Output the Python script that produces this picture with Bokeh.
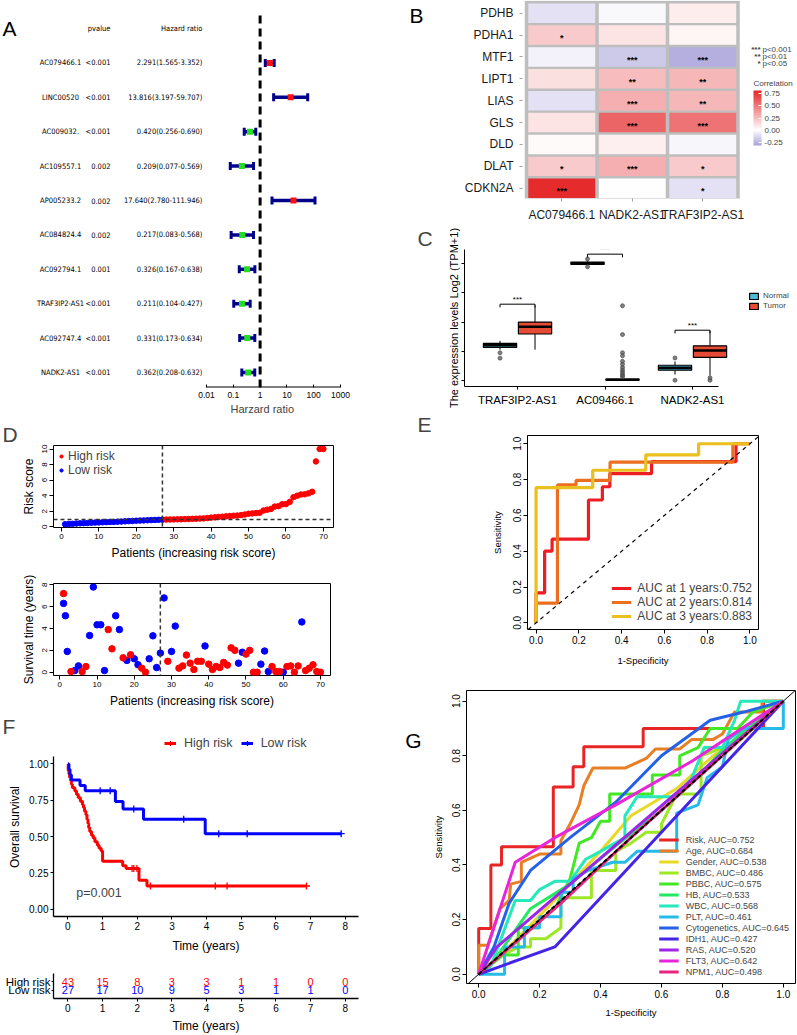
import colorsys
import numpy as np
from bokeh.plotting import figure
from bokeh.models import (Range1d, FactorRange, FixedTicker, Span, Label, Legend, LegendItem,
                          ColorBar, LinearColorMapper, ColumnDataSource, Slope, LinearScale,
                          PrintfTickFormatter, CustomJSTickFormatter, Title, LinearAxis)
from bokeh.layouts import row, column
from bokeh.transform import dodge
from bokeh.core.properties import value
from bokeh.embed import file_html
from bokeh.resources import INLINE

FONT = "Liberation Sans"
NARROW = "Liberation Sans Narrow, DejaVu Sans Condensed, Liberation Sans"

# ---------------- DATA ----------------
# A: univariate Cox forest
forest_genes = ["AC079466.1", "LINC00520", "AC009032.", "AC109557.1", "AP005233.2",
                "AC084824.4", "AC092794.1", "TRAF3IP2-AS1", "AC092747.4", "NADK2-AS1"]
forest_p = ["<0.001", "<0.001", "<0.001", "0.002", "0.002", "0.002", "0.001", "<0.001", "<0.001", "<0.001"]
forest_hr = [2.291, 13.816, 0.420, 0.209, 17.640, 0.217, 0.326, 0.211, 0.331, 0.362]
forest_lo = [1.565, 3.197, 0.256, 0.077, 2.780, 0.083, 0.167, 0.104, 0.173, 0.208]
forest_hi = [3.352, 59.707, 0.690, 0.569, 111.946, 0.568, 0.638, 0.427, 0.634, 0.632]
forest_ticks = [0.01, 0.1, 1, 10, 100, 1000]

# B: correlation heatmap
hm_genes = ["PDHB", "PDHA1", "MTF1", "LIPT1", "LIAS", "GLS", "DLD", "DLAT", "CDKN2A"]
hm_lnc = ["AC079466.1", "NADK2-AS1", "TRAF3IP2-AS1"]
corr_ac079466 = [-0.10, 0.20, -0.04, 0.12, -0.10, 0.10, 0.02, 0.20, 0.80]
corr_nadk2 = [-0.02, 0.10, -0.18, 0.25, 0.30, 0.58, 0.06, 0.30, 0.00]
corr_traf3ip2 = [0.07, 0.04, -0.27, 0.27, 0.27, 0.53, -0.03, 0.20, -0.10]
star_ac079466 = ["", "*", "", "", "", "", "", "*", "***"]
star_nadk2 = ["", "", "***", "**", "***", "***", "", "***", ""]
star_traf3ip2 = ["", "", "***", "**", "**", "***", "", "*", "*"]
corr_ticks = [-0.25, 0.0, 0.25, 0.50, 0.75]
star_legend = ["***", "**", "*"]
star_legend_p = ["p<0.001", "p<0.01", "p<0.05"]

# C: expression boxplots
box_genes = ["TRAF3IP2-AS1", "AC09466.1", "NADK2-AS1"]
normal_q1 = [2.26, 7.96, 0.69]
normal_med = [2.41, 8.04, 0.86]
normal_q3 = [2.54, 8.13, 1.03]
normal_lo = [2.10, 7.90, 0.39]
normal_hi = [2.71, 8.22, 1.29]
tumor_q1 = [3.18, 0.00, 1.57]
tumor_med = [3.68, 0.03, 2.04]
tumor_q3 = [4.00, 0.08, 2.37]
tumor_lo = [2.10, 0.00, 0.32]
tumor_hi = [5.15, 0.20, 3.40]
normal_out_gene = ["TRAF3IP2-AS1", "TRAF3IP2-AS1", "AC09466.1", "AC09466.1", "NADK2-AS1", "NADK2-AS1"]
normal_out_val = [1.89, 1.52, 8.34, 7.80, 1.53, 0.00]
tumor_out_gene = ["AC09466.1"] * 12 + ["NADK2-AS1", "NADK2-AS1"]
tumor_out_val = [5.12, 3.14, 1.89, 1.68, 1.30, 1.10, 0.88, 0.71, 0.56, 0.43, 0.32, 0.24, 0.17, 0.00]
bracket_y = [5.23, 8.67, 3.44]
box_yticks = [0, 2, 4, 6, 8]

# D: risk score & survival status
risk_score = [0.33, 0.36, 0.38, 0.42, 0.45, 0.47, 0.49, 0.52, 0.54, 0.56, 0.58, 0.60, 0.62, 0.63, 0.65,
              0.67, 0.70, 0.73, 0.75, 0.78, 0.80, 0.82, 0.84, 0.86, 0.88, 0.90, 0.92,
              0.93, 0.94, 0.95, 0.96, 0.97, 0.99, 1.00, 1.02, 1.04, 1.06, 1.08, 1.12, 1.18, 1.22,
              1.27, 1.30, 1.34, 1.38, 1.42, 1.45, 1.50, 1.58, 1.68, 1.72, 1.76, 1.80, 2.10, 2.20,
              2.30, 2.60, 2.65, 2.90, 2.92, 3.20, 3.80, 4.00, 4.15, 4.18, 4.30, 4.50, 8.40, 10.0, 10.0]
n_low_risk = 27
risk_cutoff = 0.93
surv_x = [1, 1, 1.5] + list(range(2, 71))
surv_time = [7.2, 6.3, 5.17, 1.9, 0.06, 0.15, 0.58, 0.06, 0.52, 3.36,
             7.8, 4.34, 4.34, 0.15, 3.9, 2.14, 5.17, 3.9, 1.32, 1.08,
             1.6, 1.23, 0.68, 0.37, 0.0, 1.23, 3.33, 0.43, 1.75, 6.8,
             1.0, 1.9, 4.22, 0.37, 0.58, 1.57, 0.83, 0.25, 1.0, 1.0,
             2.4, 0.74, 0.25, 0.52, 0.43, 0.9, 0.65, 2.23, 2.0, 0.83,
             1.83, 1.66, 2.0, 0.0, 0.0, 0.74, 1.94, 0.06, 0.52, 0.06,
             0.06, 0.0, 0.52, 0.58, 0.0, 0.58, 4.6, 0.15, 0.37, 0.68,
             0.06, 0.0]
surv_status = [1, 0, 0, 0, 1, 0, 0, 1, 1, 0, 0, 0, 0, 0, 1, 1, 0, 0, 1, 0,
               1, 0, 0, 1, 1, 0, 0, 0, 0, 0, 1, 0, 0, 1, 1, 1, 1, 1, 1, 1,
               0, 1, 1, 1, 1, 1, 1, 1, 1, 0, 0, 1, 1, 1, 1, 0, 0, 0, 1, 1,
               1, 0, 1, 1, 1, 1, 0, 1, 1, 1, 1, 1]

# E: time-dependent ROC
e1_fpr = [0, 0, 0.04, 0.04, 0.075, 0.075, 0.245, 0.245, 0.31, 0.31, 0.345, 0.345, 0.54, 0.54, 0.935, 0.935, 1]
e1_tpr = [0, 0.167, 0.167, 0.4, 0.4, 0.467, 0.467, 0.686, 0.686, 0.76, 0.76, 0.833, 0.833, 0.9, 0.9, 1, 1]
e2_fpr = [0, 0, 0.1, 0.1, 0.187, 0.187, 0.346, 0.346, 0.92, 0.92, 1]
e2_tpr = [0, 0.11, 0.11, 0.77, 0.77, 0.795, 0.795, 0.897, 0.897, 1, 1]
e3_fpr = [0, 0, 0.265, 0.265, 0.513, 0.513, 0.76, 0.76, 1]
e3_tpr = [0, 0.755, 0.755, 0.852, 0.852, 0.938, 0.938, 1, 1]
e_labels = ["AUC at 1 years:0.752", "AUC at 2 years:0.814", "AUC at 3 years:0.883"]
roc_ticks = [0, 0.2, 0.4, 0.6, 0.8, 1.0]

# F: Kaplan-Meier
high_t = [0, 0.01, 0.03, 0.05, 0.08, 0.1, 0.13, 0.2, 0.25, 0.3, 0.36, 0.42, 0.45, 0.48, 0.52,
          0.55, 0.58, 0.6, 0.63, 0.68, 0.73, 0.78, 0.85, 0.9, 0.96, 1.0, 1.58, 1.68, 2.05, 2.28]
high_s = [1.0, 0.953, 0.93, 0.907, 0.884, 0.86, 0.837, 0.814, 0.79, 0.767, 0.744, 0.72, 0.70, 0.675, 0.65,
          0.62, 0.59, 0.56, 0.535, 0.51, 0.49, 0.465, 0.44, 0.42, 0.40, 0.33, 0.30, 0.28, 0.20, 0.16]
high_end = 6.88
low_t = [0, 0.03, 0.06, 0.1, 0.35, 0.5, 1.37, 1.59, 2.18, 3.96]
low_s = [1.0, 0.963, 0.926, 0.889, 0.852, 0.815, 0.741, 0.69, 0.62, 0.52]
low_end = 7.88
high_cens = [1.85, 1.9, 1.99, 2.38, 4.25, 4.59, 6.88]
low_cens = [0.93, 1.22, 1.9, 3.34, 4.35, 5.17, 7.88]
risk_table_t = [0, 1, 2, 3, 4, 5, 6, 7, 8]
high_at_risk = [43, 15, 8, 3, 3, 1, 1, 0, 0]
low_at_risk = [27, 17, 10, 9, 5, 3, 1, 1, 0]
km_p = "p=0.001"

# G: multi-variable ROC
g_names = ["Risk", "Age", "Gender", "BMBC", "PBBC", "HB", "WBC", "PLT",
           "Cytogenetics", "IDH1", "RAS", "FLT3", "NPM1"]
g_auc = ["0.752", "0.684", "0.538", "0.486", "0.575", "0.533", "0.568", "0.461",
         "0.645", "0.427", "0.520", "0.642", "0.498"]
age_fpr = [0, 0, 0.03, 0.07, 0.1, 0.105, 0.14, 0.14, 0.2, 0.27, 0.27, 0.3, 0.33, 0.345, 0.375, 0.48, 0.55, 0.58, 0.66, 0.7, 0.77, 0.8, 0.84, 0.93, 0.93, 1]
age_tpr = [0, 0.106, 0.106, 0.24, 0.27, 0.33, 0.34, 0.41, 0.44, 0.44, 0.49, 0.55, 0.62, 0.69, 0.755, 0.755, 0.79, 0.825, 0.825, 0.86, 0.86, 0.88, 0.96, 0.96, 1.0, 1]
gender_fpr = [0, 0.1, 0.3, 0.4, 0.5, 0.65, 0.77, 0.87, 1]
gender_tpr = [0, 0.1, 0.33, 0.45, 0.58, 0.68, 0.8, 0.88, 1]
bmbc_fpr = [0, 0.03, 0.08, 0.13, 0.17, 0.17, 0.22, 0.27, 0.27, 0.37, 0.37, 0.45, 0.45, 0.5, 0.55, 0.6, 0.6, 0.65, 0.73, 0.73, 0.8, 0.87, 1]
bmbc_tpr = [0, 0.035, 0.07, 0.1, 0.1, 0.13, 0.13, 0.17, 0.28, 0.28, 0.38, 0.38, 0.45, 0.48, 0.52, 0.52, 0.55, 0.66, 0.66, 0.8, 0.83, 0.87, 1]
pbbc_fpr = [0, 0.08, 0.13, 0.13, 0.2, 0.2, 0.25, 0.3, 0.33, 0.37, 0.4, 0.43, 0.43, 0.57, 0.57, 0.66, 0.66, 0.72, 0.76, 0.85, 0.9, 1]
pbbc_tpr = [0, 0.07, 0.07, 0.17, 0.17, 0.2, 0.24, 0.35, 0.48, 0.5, 0.56, 0.56, 0.66, 0.66, 0.73, 0.73, 0.8, 0.83, 0.9, 0.9, 0.96, 1]
hb_fpr = [0, 0.05, 0.17, 0.3, 0.45, 0.6, 0.7, 0.8, 0.88, 1]
hb_tpr = [0, 0.05, 0.24, 0.33, 0.47, 0.6, 0.7, 0.82, 0.9, 1]
wbc_fpr = [0, 0.04, 0.1, 0.12, 0.17, 0.2, 0.25, 0.3, 0.35, 0.4, 0.48, 0.48, 0.52, 0.65, 0.7, 0.74, 0.8, 0.84, 0.86, 0.93, 1]
wbc_tpr = [0, 0.03, 0.21, 0.27, 0.27, 0.31, 0.34, 0.34, 0.42, 0.45, 0.5, 0.58, 0.65, 0.65, 0.72, 0.83, 0.83, 0.93, 1.0, 1.0, 1]
plt_fpr = [0, 0.085, 0.085, 0.15, 0.15, 0.2, 0.2, 0.27, 0.27, 0.31, 0.31, 0.36, 0.44, 0.48, 0.52, 0.65, 0.65, 0.72, 0.75, 0.8, 0.82, 0.87, 1.0, 1.0]
plt_tpr = [0, 0, 0.1, 0.1, 0.17, 0.17, 0.21, 0.21, 0.3, 0.3, 0.35, 0.38, 0.41, 0.41, 0.45, 0.45, 0.59, 0.62, 0.72, 0.76, 0.86, 0.9, 0.9, 1.0]
cyto_fpr = [0, 0.05, 0.1, 0.17, 0.3, 0.45, 0.6, 0.76, 0.87, 1]
cyto_tpr = [0, 0.1, 0.26, 0.38, 0.5, 0.63, 0.8, 0.93, 0.96, 1]
idh1_fpr = [0, 0.25, 0.6, 1]
idh1_tpr = [0, 0.1, 0.52, 1]
ras_fpr = [0, 0.06, 1]
ras_tpr = [0, 0.1, 1]
flt3_fpr = [0, 0.07, 0.12, 0.25, 0.45, 0.7, 1]
flt3_tpr = [0, 0.24, 0.41, 0.5, 0.62, 0.78, 1]
npm1_fpr = [0, 0.27, 0.5, 1]
npm1_tpr = [0, 0.26, 0.5, 1]

# ---------------- HELPERS ----------------
def fig(w, h, l, r, t, b, **kw):
    p = figure(width=w, height=h, output_backend="svg", toolbar_location=None, frame_align=False,
               min_border_left=l, min_border_right=r, min_border_top=t, min_border_bottom=b, **kw)
    p.grid.visible = False
    return p


def style_axes(p, tick_font, label_font, tick_len=4):
    for ax in p.axis:
        ax.major_label_text_font = FONT
        ax.major_label_text_font_size = tick_font
        ax.major_label_text_color = "black"
        ax.axis_label_text_font = FONT
        ax.axis_label_text_font_size = label_font
        ax.axis_label_text_font_style = "normal"
        ax.axis_label_text_color = "black"
        ax.major_tick_in = 0
        ax.major_tick_out = tick_len
        ax.minor_tick_line_color = None
        ax.major_tick_line_color = "black"
        ax.axis_line_color = "black"
        ax.major_label_standoff = 2
        ax.axis_label_standoff = 4


def r_style(p):
    p.outline_line_color = "black"
    p.outline_line_alpha = 1.0
    p.outline_line_width = 1
    for ax in p.axis:
        ax.axis_line_color = None
    p.yaxis.major_label_orientation = "vertical"


def title_letter(p, txt, offset):
    p.title.text = txt
    p.title.text_font = FONT
    p.title.text_font_size = "21px"
    p.title.text_font_style = "normal"
    p.title.align = "left"
    p.title.offset = offset
    p.title.standoff = 0


def axis_letter(p, txt, ypos, standoff):
    # panel letter carried by an extra left axis (text lives outside the frame)
    p.extra_y_ranges = {"lab": Range1d(0, 1)}
    ax = LinearAxis(y_range_name="lab", ticker=FixedTicker(ticks=[ypos]),
                    formatter=CustomJSTickFormatter(code="return '%s';" % txt),
                    major_label_text_font=FONT, major_label_text_font_size="21px",
                    major_label_text_color="black", major_label_standoff=standoff,
                    major_tick_line_color=None, minor_tick_line_color=None, axis_line_color=None)
    p.add_layout(ax, "left")


def label_formatter(labels):
    return CustomJSTickFormatter(args=dict(labels=labels),
                                 code="const i = Math.round(tick); return (i >= 0 && i < labels.length) ? labels[i] : '';")

# ---------------- A ----------------
pA = figure(width=400, height=420, x_axis_type="log",
            x_range=Range1d(10 ** -9.687, 1000), y_range=Range1d(0.564, 11.814),
            y_axis_location=None, output_backend="svg", toolbar_location=None, frame_align=False,
            min_border_left=0, min_border_right=60, min_border_top=0, min_border_bottom=33)
pA.extra_x_ranges = {"tab": Range1d(0, 340)}
pA.extra_x_scales = {"tab": LinearScale()}
pA.grid.visible = False
pA.outline_line_color = None
style_axes(pA, "8.5px", "11px")
axA = pA.xaxis[0]
axA.ticker = FixedTicker(ticks=forest_ticks)
axA.formatter = CustomJSTickFormatter(code="return String(tick);")
axA.axis_line_color = None
axA.major_tick_in = 3
axA.major_tick_out = 0
axA.major_label_standoff = 4
pA.add_layout(Title(text="Harzard ratio", align="left", offset=230, text_font=FONT,
                    text_font_size="11px", text_font_style="normal", standoff=0), "below")

rows_y = list(range(len(forest_genes), 0, -1))
hr_txt = ["%.3f(%.3f-%.3f)" % (h, l, u) for h, l, u in zip(forest_hr, forest_lo, forest_hi)]
pt_col = ["#FF1010" if h > 1 else "#22DD22" for h in forest_hr]
srcA = ColumnDataSource(dict(y=rows_y, gene=forest_genes, p=forest_p, hr=forest_hr,
                             lo=forest_lo, hi=forest_hi, txt=hr_txt, col=pt_col))
tkw = dict(x_range_name="tab", text_baseline="middle", text_font=value(NARROW),
           text_font_size="7.5px", text_color="black", source=srcA)
pA.text(x=60, y="y", text="gene", text_align="center", **tkw)
pA.text(x=110, y="y", text="p", text_align="right", **tkw)
pA.text(x=202, y="y", text="txt", text_align="right", **tkw)
pA.text(x=[110, 202], y=[11, 11], text=["pvalue", "Hazard ratio"], x_range_name="tab",
        text_align="right", text_baseline="middle", text_font=value(NARROW), text_font_size="7.5px")
pA.text(x=[2], y=[11], text=["A"], x_range_name="tab", text_align="left", text_baseline="middle",
        text_font=value(FONT), text_font_size="21px")
pA.segment(x0=[forest_ticks[0]], x1=[forest_ticks[-1]], y0=[0.564], y1=[0.564], line_color="black", line_width=2)
pA.segment(x0=[1], x1=[1], y0=[0.564], y1=[11.4], line_color="black", line_width=3, line_dash="8 5")
pA.segment(x0="lo", x1="hi", y0="y", y1="y", source=srcA, line_color="#00008B", line_width=3.5)
pA.scatter(x="lo", y="y", source=srcA, marker="dash", angle=np.pi / 2, size=8, line_color="#00008B", line_width=3)
pA.scatter(x="hi", y="y", source=srcA, marker="dash", angle=np.pi / 2, size=8, line_color="#00008B", line_width=3)
pA.scatter(x="hr", y="y", source=srcA, marker="square", size=6, fill_color="col", line_color=None)

# ---------------- B ----------------
def lerp(c1, c2, t):
    t = max(0.0, min(1.0, t))
    return tuple(int(round(a + (b - a) * t)) for a, b in zip(c1, c2))

low_c, mid_c, high_c = (158, 152, 212), (255, 255, 255), (228, 30, 32)
cmin, cmax = -0.32, 0.82
palette = []
for i in range(256):
    v = cmin + (cmax - cmin) * i / 255
    c = lerp(mid_c, low_c, v / -0.35) if v < 0 else lerp(mid_c, high_c, v / 0.85)
    palette.append("#%02x%02x%02x" % c)
mapper = LinearColorMapper(palette=palette, low=cmin, high=cmax)

n_col, n_row = len(hm_lnc), len(hm_genes)
hx, hy, hv, hs = [], [], [], []
for ci, (vals, sts) in enumerate(zip([corr_ac079466, corr_nadk2, corr_traf3ip2],
                                     [star_ac079466, star_nadk2, star_traf3ip2])):
    for ri, (v, s) in enumerate(zip(vals, sts)):
        hx.append(ci); hy.append(n_row - 1 - ri); hv.append(v); hs.append(s)
srcB = ColumnDataSource(dict(x=hx, y=hy, v=hv, s=hs))

pB = fig(397, 224, 122, 0, 0, 21, x_range=Range1d(-0.557, 3.344), y_range=Range1d(-0.468, 8.578))
pB.outline_line_color = None
pB.rect(x=[(n_col - 1) / 2], y=[(n_row - 1) / 2], width=[n_col + 0.05], height=[n_row + 0.13],
        fill_color="#BEBEBE", line_color=None)
pB.rect(x="x", y="y", width=0.95, height=0.89, source=srcB,
        fill_color={"field": "v", "transform": mapper}, line_color=None)
pB.text(x="x", y="y", text="s", source=srcB, text_align="center", text_baseline="middle",
        y_offset=3, text_font=value(FONT), text_font_size="9px", text_font_style="bold")
style_axes(pB, "12px", "12px", tick_len=3)
pB.xaxis.ticker = FixedTicker(ticks=list(range(n_col)))
pB.xaxis.formatter = label_formatter(hm_lnc)
pB.yaxis.ticker = FixedTicker(ticks=list(range(n_row)))
pB.yaxis.formatter = label_formatter(hm_genes[::-1])
for ax in pB.axis:
    ax.axis_line_color = None
    ax.major_tick_line_color = "#A0A0A0"
    ax.major_label_text_color = "#1A1A1A"
    ax.major_label_standoff = 6
cb = ColorBar(color_mapper=mapper, ticker=FixedTicker(ticks=corr_ticks),
              formatter=PrintfTickFormatter(format="%.2f"), width=8, height=55,
              major_label_text_font=FONT, major_label_text_font_size="8px", label_standoff=3,
              major_tick_line_color="white", major_tick_in=3, major_tick_out=0,
              bar_line_color=None, border_line_color=None, background_fill_color=None,
              margin=0, padding=2, location=(229, 51))
pB.add_layout(cb)
pB.add_layout(Label(x=231, y=111, x_units="screen", y_units="screen", text="Correlation", text_font=FONT,
                    text_font_size="8px", text_align="left"))
for st, tx, yy in zip(star_legend, star_legend_p, [144.5, 137.5, 130.5]):
    pB.add_layout(Label(x=238, y=yy, x_units="screen", y_units="screen", text=st, text_font=FONT,
                        text_font_size="8px", text_align="right", text_font_style="bold"))
    pB.add_layout(Label(x=240, y=yy, x_units="screen", y_units="screen", text=tx, text_font=FONT,
                        text_font_size="8px", text_align="left"))
axis_letter(pB, "B", 0.926, 32)

# ---------------- C ----------------
box_x = list(range(len(box_genes)))
pC = fig(397, 186, 64, 0, 16, 24, x_range=Range1d(-0.606, 3.2), y_range=Range1d(-0.43, 8.99))
pC.outline_line_color = None
style_axes(pC, "11.5px", "11px", tick_len=3)
pC.xaxis.ticker = FixedTicker(ticks=box_x)
pC.xaxis.formatter = label_formatter(box_genes)
pC.xaxis.bounds = (-0.606, 2.3)
pC.yaxis.ticker = FixedTicker(ticks=box_yticks)
pC.yaxis.formatter = CustomJSTickFormatter(code="return '';")
pC.yaxis.major_label_text_color = None
pC.yaxis.axis_label = "The expression levels Log2 (TPM+1)"
pC.yaxis.axis_label_standoff = 2
pC.xaxis.major_label_standoff = 4
title_letter(pC, "C", -47)
gene_pos = {g: i for i, g in enumerate(box_genes)}
nsrc = ColumnDataSource(dict(x=box_x, q1=normal_q1, med=normal_med, q3=normal_q3, lo=normal_lo, hi=normal_hi))
tsrc = ColumnDataSource(dict(x=box_x, q1=tumor_q1, med=tumor_med, q3=tumor_q3, lo=tumor_lo, hi=tumor_hi))
boxes = {}
for src, off, colr, name in [(nsrc, -0.2, "#4DBBD5", "Normal"), (tsrc, 0.2, "#E64B35", "Tumor")]:
    xc = dodge("x", off)
    pC.segment(x0=xc, x1=xc, y0="q3", y1="hi", source=src, line_color="black", line_width=1)
    pC.segment(x0=xc, x1=xc, y0="q1", y1="lo", source=src, line_color="black", line_width=1)
    boxes[name] = pC.vbar(x=xc, width=0.38, bottom="q1", top="q3", source=src,
                          fill_color=colr, line_color="black", line_width=1.2)
    pC.segment(x0=dodge("x", off - 0.19), x1=dodge("x", off + 0.19),
               y0="med", y1="med", source=src, line_color="black", line_width=2.5)
onsrc = ColumnDataSource(dict(x=[gene_pos[g] for g in normal_out_gene], v=normal_out_val))
otsrc = ColumnDataSource(dict(x=[gene_pos[g] for g in tumor_out_gene], v=tumor_out_val))
pC.scatter(x=dodge("x", -0.2), y="v", source=onsrc, size=4, color="#555555", alpha=0.75)
pC.scatter(x=dodge("x", 0.2), y="v", source=otsrc, size=4, color="#555555", alpha=0.75)
bsrc = ColumnDataSource(dict(x=box_x, by=bracket_y, bt=[b - 0.22 for b in bracket_y], s=["***"] * 3))
pC.segment(x0=dodge("x", -0.2), x1=dodge("x", 0.2), y0="by", y1="by", source=bsrc, line_color="black", line_width=1)
for off in (-0.2, 0.2):
    pC.segment(x0=dodge("x", off), x1=dodge("x", off), y0="by", y1="bt", source=bsrc, line_color="black", line_width=1)
pC.text(x="x", y="by", text="s", source=bsrc, text_align="center", text_baseline="bottom",
        text_font=value(FONT), text_font_size="8px")
legC = Legend(items=[LegendItem(label="Normal", renderers=[boxes["Normal"]]),
                     LegendItem(label="Tumor", renderers=[boxes["Tumor"]])],
              location=(284, 76), label_text_font=FONT, label_text_font_size="8px",
              glyph_width=11, glyph_height=8, label_height=9, spacing=1, padding=2, margin=0,
              label_standoff=4, border_line_color=None, background_fill_alpha=0)
pC.add_layout(legC)

# ---------------- D1 ----------------
idx = list(range(1, len(risk_score) + 1))
pD1 = fig(400, 142, 53, 67, 22, 30, x_range=Range1d(-2.1, 72.7), y_range=Range1d(-0.09, 10.45))
style_axes(pD1, "8px", "12px")
r_style(pD1)
title_letter(pD1, "D", -51)
pD1.xaxis.ticker = FixedTicker(ticks=list(range(0, 71, 10)))
pD1.yaxis.ticker = FixedTicker(ticks=list(range(0, 11, 2)))
pD1.xaxis.axis_label = "Patients (increasing risk score)"
pD1.yaxis.axis_label = "Risk score"
pD1.add_layout(Span(location=n_low_risk, dimension="height", line_color="#333333", line_dash="4 3", line_width=1.5))
pD1.add_layout(Span(location=risk_cutoff, dimension="width", line_color="#333333", line_dash="4 3", line_width=1.5))
rl = pD1.scatter(idx[:n_low_risk], risk_score[:n_low_risk], size=5.5, color="#0000FF")
rh = pD1.scatter(idx[n_low_risk:], risk_score[n_low_risk:], size=5.5, color="#FF0000")
legD = Legend(items=[LegendItem(label="High risk", renderers=[rh]), LegendItem(label="Low risk", renderers=[rl])],
              location="top_left", label_text_font=FONT, label_text_font_size="12px",
              glyph_width=8, glyph_height=10, label_height=11, spacing=0, padding=1, margin=4,
              label_standoff=3, border_line_color=None, background_fill_alpha=0)
pD1.add_layout(legD)

# ---------------- D2 ----------------
pD2 = fig(400, 150, 53, 70, 21, 37, x_range=Range1d(-1.7, 72.7), y_range=Range1d(-0.3, 8.12))
style_axes(pD2, "8px", "12px")
r_style(pD2)
pD2.xaxis.ticker = FixedTicker(ticks=list(range(0, 71, 10)))
pD2.yaxis.ticker = FixedTicker(ticks=list(range(0, 9, 2)))
pD2.xaxis.axis_label = "Patients (increasing risk score)"
pD2.yaxis.axis_label = "Survival time (years)"
pD2.add_layout(Span(location=n_low_risk, dimension="height", line_color="#333333", line_dash="4 3", line_width=1.5))
dead_x = [x for x, s in zip(surv_x, surv_status) if s == 1]
dead_t = [t for t, s in zip(surv_time, surv_status) if s == 1]
alive_x = [x for x, s in zip(surv_x, surv_status) if s == 0]
alive_t = [t for t, s in zip(surv_time, surv_status) if s == 0]
pD2.scatter(alive_x, alive_t, size=6.5, color="#0000FF")
pD2.scatter(dead_x, dead_t, size=6.5, color="#FF0000")

# ---------------- E ----------------
pE = fig(397, 270, 127, 39, 25, 51, x_range=Range1d(-0.04, 1.04), y_range=Range1d(-0.037, 1.046))
style_axes(pE, "10px", "9.5px")
r_style(pE)
title_letter(pE, "E", -110)
pE.xaxis.ticker = FixedTicker(ticks=roc_ticks)
pE.yaxis.ticker = FixedTicker(ticks=roc_ticks)
pE.xaxis.formatter = PrintfTickFormatter(format="%.1f")
pE.yaxis.formatter = PrintfTickFormatter(format="%.1f")
pE.xaxis.axis_label = "1-Specificity"
pE.yaxis.axis_label = "Sensitivity"
pE.xaxis.axis_label_standoff = 8
pE.yaxis.axis_label_standoff = 8
pE.add_layout(Slope(gradient=1, y_intercept=0, line_color="black", line_dash="4 4", line_width=1.2))
e_cols = ["#EE1D24", "#EC6F21", "#EBC01E"]
e_items = []
for fx, ty, c, lab in zip([e1_fpr, e2_fpr, e3_fpr], [e1_tpr, e2_tpr, e3_tpr], e_cols, e_labels):
    r = pE.line(fx, ty, line_color=c, line_width=3.2)
    e_items.append(LegendItem(label=lab, renderers=[r]))
legE = Legend(items=e_items, location="bottom_right", label_text_font=FONT, label_text_font_size="12px",
              glyph_width=20, glyph_height=12, label_height=12, spacing=0, padding=0, margin=6,
              label_standoff=6, border_line_color=None, background_fill_alpha=0)
pE.add_layout(legE)

# ---------------- F (KM) ----------------
def surv_at(ts, ss, t):
    return ss[int(np.searchsorted(ts, t, side="right")) - 1]

pF = fig(400, 243, 53, 42, 25, 32, x_range=Range1d(-0.415, 8.38), y_range=Range1d(-0.05, 1.182))
pF.outline_line_color = None
style_axes(pF, "10px", "12px", tick_len=3)
for ax in pF.axis:
    ax.axis_line_width = 1.3
title_letter(pF, "F", -51)
pF.xaxis.ticker = FixedTicker(ticks=risk_table_t)
pF.yaxis.ticker = FixedTicker(ticks=[0, 0.25, 0.5, 0.75, 1.0])
pF.yaxis.formatter = PrintfTickFormatter(format="%.2f")
pF.yaxis.bounds = (-0.05, 1.048)
pF.xaxis.axis_label = "Time (years)"
pF.yaxis.axis_label = "Overall survival"
pF.xaxis.axis_label_standoff = 6
rH = pF.step(high_t + [high_end], high_s + [high_s[-1]], mode="after", line_color="#FF0000", line_width=3)
rL = pF.step(low_t + [low_end], low_s + [low_s[-1]], mode="after", line_color="#0000FF", line_width=3)
cH = pF.scatter(high_cens, [surv_at(high_t, high_s, t) for t in high_cens], marker="cross", size=7,
                line_color="#FF0000", line_width=1.3)
cL = pF.scatter(low_cens, [surv_at(low_t, low_s, t) for t in low_cens], marker="cross", size=7,
                line_color="#0000FF", line_width=1.3)
legF = Legend(items=[LegendItem(label="High risk", renderers=[rH, cH]), LegendItem(label="Low risk", renderers=[rL, cL])],
              orientation="horizontal", location=(111, 166), label_text_font=FONT, label_text_font_size="12.5px",
              glyph_width=12, glyph_height=12, label_height=14, spacing=8, padding=0, margin=0,
              label_standoff=8, border_line_color=None, background_fill_alpha=0)
pF.add_layout(legF)
pF.add_layout(Label(x=0.24, y=0.11, text=km_p, text_font=FONT, text_font_size="12.5px", text_baseline="middle"))

# ---------------- F (risk table) ----------------
pT = fig(400, 80, 53, 42, 18, 34, x_range=pF.x_range,
         y_range=FactorRange("Low risk", "High risk", range_padding=0.4, range_padding_units="absolute"))
pT.outline_line_color = None
style_axes(pT, "10px", "12px", tick_len=3)
pT.yaxis.major_label_text_font_size = "11.5px"
pT.yaxis.major_tick_out = 2
pT.yaxis.major_label_standoff = 1
pT.xaxis.ticker = FixedTicker(ticks=risk_table_t)
pT.xaxis.axis_label = "Time (years)"
for ax in pT.axis:
    ax.axis_line_width = 1.3
pT.text(x=risk_table_t, y=["High risk"] * len(risk_table_t), text=[str(v) for v in high_at_risk],
        text_align="center", text_baseline="middle", text_color="#FF0000",
        text_font=value(FONT), text_font_size="11px")
pT.text(x=risk_table_t, y=["Low risk"] * len(risk_table_t), text=[str(v) for v in low_at_risk],
        text_align="center", text_baseline="middle", text_color="#0000FF",
        text_font=value(FONT), text_font_size="11px")

# ---------------- G ----------------
pG = fig(397, 355, 66, 2, 10, 52, x_range=Range1d(-0.04, 1.04), y_range=Range1d(-0.034, 1.039))
style_axes(pG, "10px", "9.5px")
r_style(pG)
pG.xaxis.ticker = FixedTicker(ticks=roc_ticks)
pG.yaxis.ticker = FixedTicker(ticks=roc_ticks)
pG.xaxis.formatter = PrintfTickFormatter(format="%.1f")
pG.yaxis.formatter = PrintfTickFormatter(format="%.1f")
pG.xaxis.axis_label = "1-Specificity"
pG.yaxis.axis_label = "Sensitivity"
pG.xaxis.axis_label_standoff = 6
pG.yaxis.axis_label_standoff = 6
axis_letter(pG, "G", 0.829, 2)
pG.add_layout(Slope(gradient=1, y_intercept=0, line_color="black", line_width=1))
g_fprs = [e1_fpr, age_fpr, gender_fpr, bmbc_fpr, pbbc_fpr, hb_fpr, wbc_fpr, plt_fpr,
          cyto_fpr, idh1_fpr, ras_fpr, flt3_fpr, npm1_fpr]
g_tprs = [e1_tpr, age_tpr, gender_tpr, bmbc_tpr, pbbc_tpr, hb_tpr, wbc_tpr, plt_tpr,
          cyto_tpr, idh1_tpr, ras_tpr, flt3_tpr, npm1_tpr]
g_items = []
n_g = len(g_names)
for i, (nm, auc, fx, ty) in enumerate(zip(g_names, g_auc, g_fprs, g_tprs)):
    rr, gg, bb = colorsys.hsv_to_rgb(i / n_g, 0.84, 0.91)
    col = "#%02x%02x%02x" % (int(rr * 255), int(gg * 255), int(bb * 255))
    r = pG.line(fx, ty, line_color=col, line_width=3)
    g_items.append(LegendItem(label="%s, AUC=%s" % (nm, auc), renderers=[r]))
pG.line([0, 1], [0, 1], line_color="black", line_dash="4 3", line_width=2)
legG = Legend(items=g_items, location="bottom_right", label_text_font=FONT, label_text_font_size="9px",
              glyph_width=20, glyph_height=11, label_height=11, spacing=0, padding=0, margin=6,
              label_standoff=7, border_line_color=None, background_fill_alpha=0)
pG.add_layout(legG)

# ---------------- LAYOUT ----------------
left = column(pA, pD1, pD2, pF, pT)
right = column(pB, pC, pE, pG)
layout = row(left, right)

open("out.html", "w").write(file_html(layout, INLINE, title="figure"))
